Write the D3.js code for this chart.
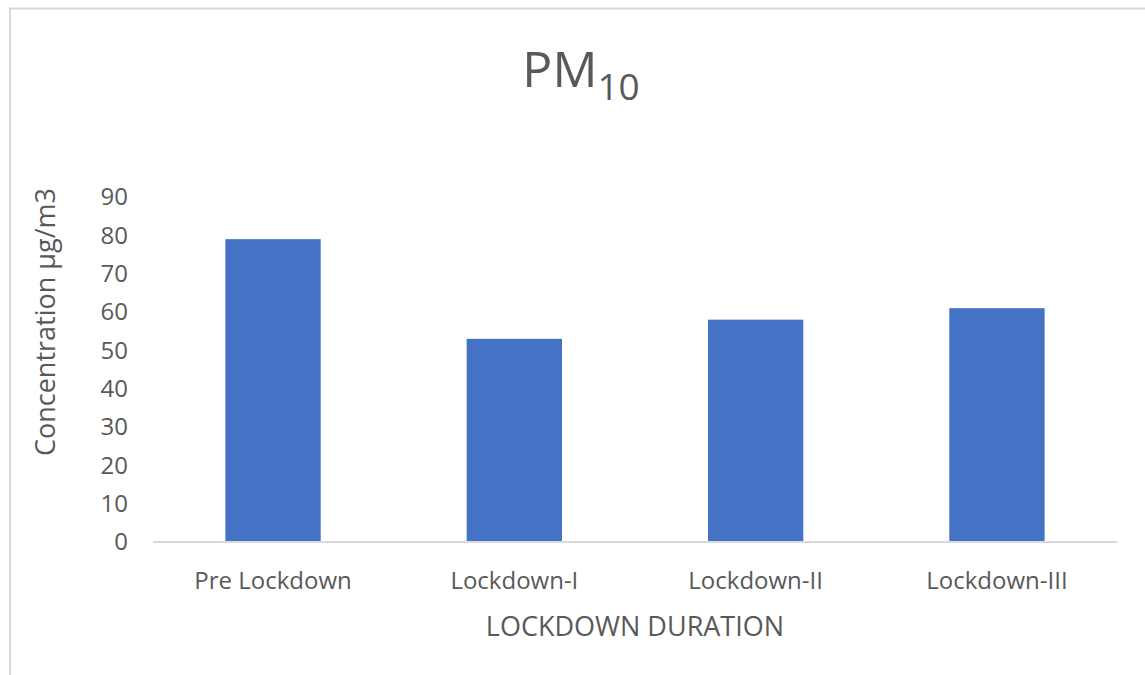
<!DOCTYPE html>
<html>
<head>
<meta charset="utf-8">
<script src="https://cdn.jsdelivr.net/npm/d3@7"></script>
<style>
  body { margin: 0; background: #fff; }
  text { font-family: "Open Sans", sans-serif; fill: #595959; }
</style>
</head>
<body>
<svg width="1145" height="675"></svg>
<script>
// Chart data
var categories = ['Pre Lockdown', 'Lockdown-I', 'Lockdown-II', 'Lockdown-III'];
var values = [79, 53, 58, 61];
var yTicks = [0, 10, 20, 30, 40, 50, 60, 70, 80, 90];

var svg = d3.select('svg');

// chart border (cropped on right/bottom)
svg.append('path')
    .attr('d', 'M10,675 V8.5 H1145')
    .attr('fill', 'none')
    .attr('stroke', '#d9d9d9')
    .attr('stroke-width', 2);

var plot = {l: 153, r: 1117, t: 197, b: 542};

var xScale = d3.scaleBand()
    .domain(categories)
    .range([plot.l, plot.r])
    .paddingInner(0.605)
    .paddingOuter(0.3);

var yScale = d3.scaleLinear()
    .domain([0, 90])
    .range([plot.b, plot.t]);

// bars
svg.selectAll('.bar')
    .data(values)
    .enter()
    .append('rect')
    .attr('class', 'bar')
    .attr('x', function(d, i) { return xScale(categories[i]); })
    .attr('y', function(d) { return yScale(d); })
    .attr('width', xScale.bandwidth())
    .attr('height', function(d) { return yScale(0) - yScale(d); })
    .attr('fill', '#4472c4');

// x axis line
svg.append('line')
    .attr('x1', plot.l).attr('x2', plot.r)
    .attr('y1', yScale(0)).attr('y2', yScale(0))
    .attr('stroke', '#d9d9d9')
    .attr('stroke-width', 2);

// y tick labels
svg.selectAll('.ytick')
    .data(yTicks)
    .enter()
    .append('text')
    .attr('class', 'ytick')
    .attr('x', 128)
    .attr('y', function(d) { return yScale(d); })
    .attr('dy', '0.35em')
    .style('text-anchor', 'end')
    .style('font-size', '24px')
    .text(function(d) { return d; });

// category labels
svg.selectAll('.xtick')
    .data(categories)
    .enter()
    .append('text')
    .attr('class', 'xtick')
    .attr('x', function(d) { return xScale(d) + xScale.bandwidth() / 2; })
    .attr('y', 589)
    .style('text-anchor', 'middle')
    .style('font-size', '24px')
    .text(function(d) { return d; });

// axis titles
svg.append('text')
    .attr('x', (plot.l + plot.r) / 2)
    .attr('y', 636)
    .style('text-anchor', 'middle')
    .style('font-size', '27px')
    .text('LOCKDOWN DURATION');

svg.append('text')
    .attr('transform', 'translate(55,' + 322 + ') rotate(-90)')
    .style('text-anchor', 'middle')
    .style('font-size', '27px')
    .text('Concentration µg/m3');

// title
var title = svg.append('text')
    .attr('x', 581)
    .attr('y', 87)
    .style('text-anchor', 'middle')
    .style('font-size', '50px');
title.append('tspan').text('PM');
title.append('tspan')
    .attr('dy', 13)
    .style('font-size', '37px')
    .text('10');
</script>
</body>
</html>
